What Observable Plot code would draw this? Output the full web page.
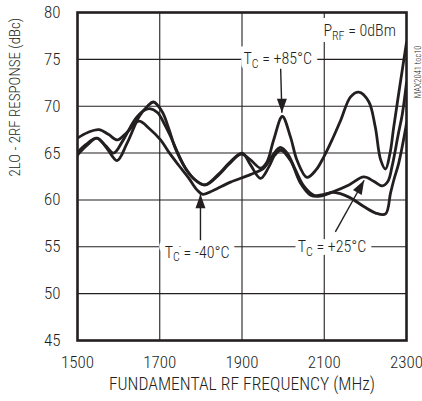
<!DOCTYPE html>
<html><head><meta charset="utf-8">
<script src="https://cdn.jsdelivr.net/npm/d3@7"></script>
<script src="https://cdn.jsdelivr.net/npm/@observablehq/plot@0.6"></script>
<style>
html,body{margin:0;padding:0;background:#fff;}
#chart svg{display:block;}
#chart text{font-weight:300;}
</style>
</head><body><div id="chart"></div>
<script>
const FONT = '"Liberation Sans Narrow", "Arial Narrow", "Roboto Condensed", "DejaVu Sans Condensed", sans-serif';
const INK = "#231f20";

const xTicks = [1500, 1700, 1900, 2100, 2300];
const yTicks = [45, 50, 55, 60, 65, 70, 75, 80];
const xGrid = [1700, 1900, 2100];
const yGrid = [50, 55, 60, 65, 70, 75];

// T_C = +85°C
const freq85 = [1500,1520,1546,1568,1588,1610,1640,1660,1675,1695,1710,1725,1745,1765,1790,1812,1844,1868,1898,1920,1945,1960,1977,1998,2018,2034,2058,2080,2099,2120,2140,2164,2184,2208,2224,2237,2249,2260,2269,2285,2300];
const resp85 = [65.1,65.9,66.6,65.8,65.0,66.3,68.6,69.5,69.75,69.3,68.2,66.9,64.9,63.2,62.0,61.6,62.7,63.8,64.9,64.3,63.4,64.0,66.4,68.9,66.7,64.2,62.4,63.2,64.6,66.5,68.5,71.0,71.5,70.5,67.8,64.3,63.3,65.0,67.8,72.5,76.8];

// T_C = +25°C
const freq25 = [1500,1520,1548,1570,1596,1620,1650,1670,1685,1706,1722,1738,1763,1787,1810,1844,1868,1900,1920,1945,1965,1980,1995,2018,2042,2067,2090,2123,2160,2196,2220,2241,2255,2265,2280,2290,2300];
const resp25 = [64.8,65.7,66.6,65.6,64.2,66.0,68.9,70.0,70.45,69.4,67.6,65.5,63.35,62.1,61.6,62.8,63.9,65.0,63.8,62.3,63.5,64.8,65.3,64.2,61.8,60.5,60.4,60.9,61.6,62.45,62.0,61.5,62.0,63.6,67.0,69.2,72.5];

// T_C = -40°C
const freqM40 = [1500,1525,1552,1575,1597,1620,1649,1675,1702,1722,1746,1771,1790,1805,1830,1872,1920,1953,1975,1993,2010,2030,2050,2075,2100,2123,2160,2196,2225,2249,2261,2269,2281,2297,2300];
const respM40 = [66.6,67.2,67.5,67.0,66.4,67.2,68.4,67.6,66.4,65.1,63.7,62.3,61.1,60.6,61.0,61.9,62.7,63.4,64.8,65.6,65.0,63.2,61.5,60.5,60.6,60.8,60.3,59.3,58.6,58.5,60.7,62.1,63.9,67.4,68.2];

const seriesNames = ["+85", "+25", "-40"];
const seriesFreq = [freq85, freq25, freqM40];
const seriesResp = [resp85, resp25, respM40];

// annotations (text anchored in data space)
const labelText = ["T_C = +85°C", "T_C = -40°C", "T_C = +25°C", "P_RF = 0dBm"];
const labelX = [1987, 1791, 2119, 2186];
const labelY = [75, 54.4, 55, 78.0];

// arrows: start -> tip (data space)
const arrowX1 = [1994, 1799, 2127];
const arrowY1 = [74.0, 55.7, 56.6];
const arrowX2 = [1997, 1799, 2197];
const arrowY2 = [69.3, 60.6, 62.1];
const arrowRot = [180, 0, 29];

const xTitle = "FUNDAMENTAL RF FREQUENCY (MHz)";
const yTitle = "2LO - 2RF RESPONSE (dBc)";
const tag = "MAX2041 toc10";

const curveData = seriesNames.flatMap((s, k) => seriesFreq[k].map((f, i) => ({s, f, r: seriesResp[k][i]})));
const labels = labelText.map((t, i) => ({t, x: labelX[i], y: labelY[i]}));
const arrows = arrowX1.map((x1, i) => ({x1, y1: arrowY1[i], x2: arrowX2[i], y2: arrowY2[i], rot: arrowRot[i]}));

const head = {draw(ctx, l, r) { ctx.moveTo(-r, 0); ctx.lineTo(0, -l); ctx.lineTo(r, 0); ctx.closePath(); }};

const chart = Plot.plot({
  width: 422, height: 401,
  marginLeft: 77, marginRight: 16, marginTop: 12, marginBottom: 61,
  style: {fontFamily: FONT, color: INK, background: "#fff"},
  x: {domain: [1500, 2300]},
  y: {domain: [45, 80]},
  marks: [
    Plot.ruleX(xGrid, {stroke: INK, strokeWidth: 1.1}),
    Plot.ruleY(yGrid, {stroke: INK, strokeWidth: 1.1}),
    Plot.line(curveData, {x: "f", y: "r", z: "s", stroke: INK, strokeWidth: 2.8, curve: "catmull-rom", clip: true}),
    Plot.text(labels, {x: "x", y: "y", text: "t", fontSize: 16, fill: "white", stroke: "white", strokeWidth: 12, strokeLinejoin: "round", fontFamily: FONT}),
    Plot.text(labels, {x: "x", y: "y", text: "t", fontSize: 16, fill: INK, fontFamily: FONT}),
    Plot.link(arrows, {x1: "x1", y1: "y1", x2: "x2", y2: "y2", stroke: INK, strokeWidth: 1.4}),
    Plot.vector(arrows, {x: "x2", y: "y2", rotate: "rot", length: 14, r: 5, anchor: "end", shape: head, fill: INK, stroke: "none"}),
    Plot.frame({stroke: INK, strokeWidth: 2.6}),
    Plot.axisX({ticks: xTicks, tickFormat: d => String(d), tickSize: 0, tickPadding: 15, label: null, fontSize: 17, fontFamily: FONT}),
    Plot.axisY({ticks: yTicks, tickFormat: d => String(d), tickSize: 0, tickPadding: 17, label: null, fontSize: 17, fontFamily: FONT}),
    Plot.text([xTitle], {frameAnchor: "bottom", text: d => d, dy: 49, fontSize: 17.6, fill: INK, fontFamily: FONT}),
    Plot.text([yTitle], {frameAnchor: "left", text: d => d, dx: -62, rotate: -90, fontSize: 15, fill: INK, fontFamily: FONT}),
    Plot.text([tag], {frameAnchor: "top-right", text: d => d, dx: 8, dy: 33, rotate: -90, fontSize: 8.5, fill: INK, fontFamily: FONT})
  ]
});

// subscripts: "X_SUB rest"
chart.querySelectorAll("text").forEach(t => {
  if (t.children.length) return;
  const m = t.textContent.match(/^(.*?)_(\S+)(.*)$/);
  if (!m) return;
  const ns = "http://www.w3.org/2000/svg";
  t.textContent = "";
  const a = document.createElementNS(ns, "tspan"); a.textContent = m[1];
  const b = document.createElementNS(ns, "tspan"); b.textContent = m[2];
  b.setAttribute("font-size", "0.75em"); b.setAttribute("dy", "0.32em");
  const c = document.createElementNS(ns, "tspan"); c.textContent = m[3];
  c.setAttribute("dy", "-0.24em");
  t.append(a, b, c);
});

document.getElementById("chart").append(chart);
</script>
</body></html>
